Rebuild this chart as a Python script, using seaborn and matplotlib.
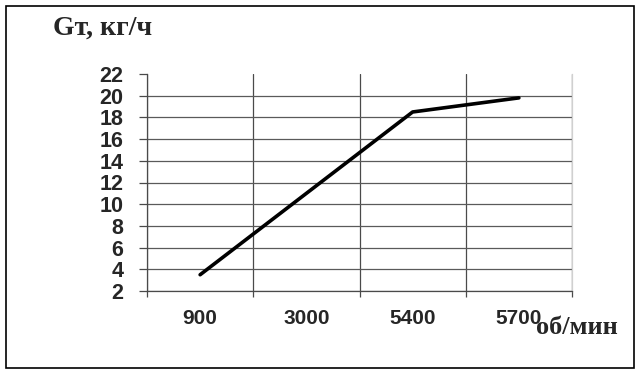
import numpy as np
import pandas as pd
import matplotlib
matplotlib.use('Agg')
import seaborn as sns
import matplotlib.pyplot as plt
from matplotlib.patches import Rectangle

# data
rpm = ['900', '3000', '5400', '5700']
fuel = [3.5, 11.0, 18.5, 19.8]
y_ticks = [2, 4, 6, 8, 10, 12, 14, 16, 18, 20, 22]

df = pd.DataFrame({'rpm': rpm, 'Gt': fuel})

sns.set_style('white')
plt.rcParams['font.family'] = ['Liberation Sans', 'DejaVu Sans']

fig = plt.figure(figsize=(6.41, 3.75), dpi=100)
ax = fig.add_axes([147/641, 1 - 291/375, (572 - 147)/641, (291 - 74)/375])

sns.lineplot(data=df, x='rpm', y='Gt', ax=ax, color='black', linewidth=2.6, sort=False)

ax.set_xlim(-0.5, len(rpm) - 0.5)
ax.set_ylim(2, 22)
ax.set_yticks(y_ticks)
ax.set_xticks(range(len(rpm)))
ax.set_xticklabels(rpm)
ax.set_xticks(np.arange(-0.5, len(rpm)), minor=True)

# grid
ax.grid(axis='y', which='major', color='#5a5a5a', linewidth=0.9)
ax.grid(axis='x', which='minor', color='#4a4a4a', linewidth=0.9)
ax.grid(axis='x', which='major', visible=False)
ax.yaxis.get_gridlines()[-1].set_visible(False)

ax.tick_params(axis='x', which='major', length=0, pad=13, labelsize=15)
ax.tick_params(axis='x', which='minor', length=4.5, width=0.9, color='#4a4a4a', direction='out', bottom=True)
ax.tick_params(axis='y', length=6, width=0.9, color='#4a4a4a', direction='out', pad=11, labelsize=15.5, left=True)
for lab in ax.get_xticklabels() + ax.get_yticklabels():
    lab.set_fontweight('bold')

ax.set_xlabel('')
ax.set_ylabel('')
ax.spines['top'].set_visible(False)
ax.spines['right'].set_color('#d0d0d0')
ax.spines['left'].set_color('#4a4a4a')
ax.spines['bottom'].set_color('#4a4a4a')
for s in ['left', 'bottom', 'right']:
    ax.spines[s].set_linewidth(0.9)

fig.text(53/641, 1 - 34.5/375, 'Gт, кг/ч', family=['Liberation Serif', 'DejaVu Serif'],
         fontweight='bold', fontsize=20, ha='left', va='baseline')
fig.text(536/641, 1 - 334/375, 'об/мин', family=['Liberation Serif', 'DejaVu Serif'],
         fontweight='bold', fontsize=19, ha='left', va='baseline')

# outer frame
fig.patches.append(Rectangle((6/641, 7/375), 628/641, 362/375, transform=fig.transFigure,
                             fill=False, edgecolor='black', linewidth=1.2))

fig.savefig('out.png', dpi=100)
